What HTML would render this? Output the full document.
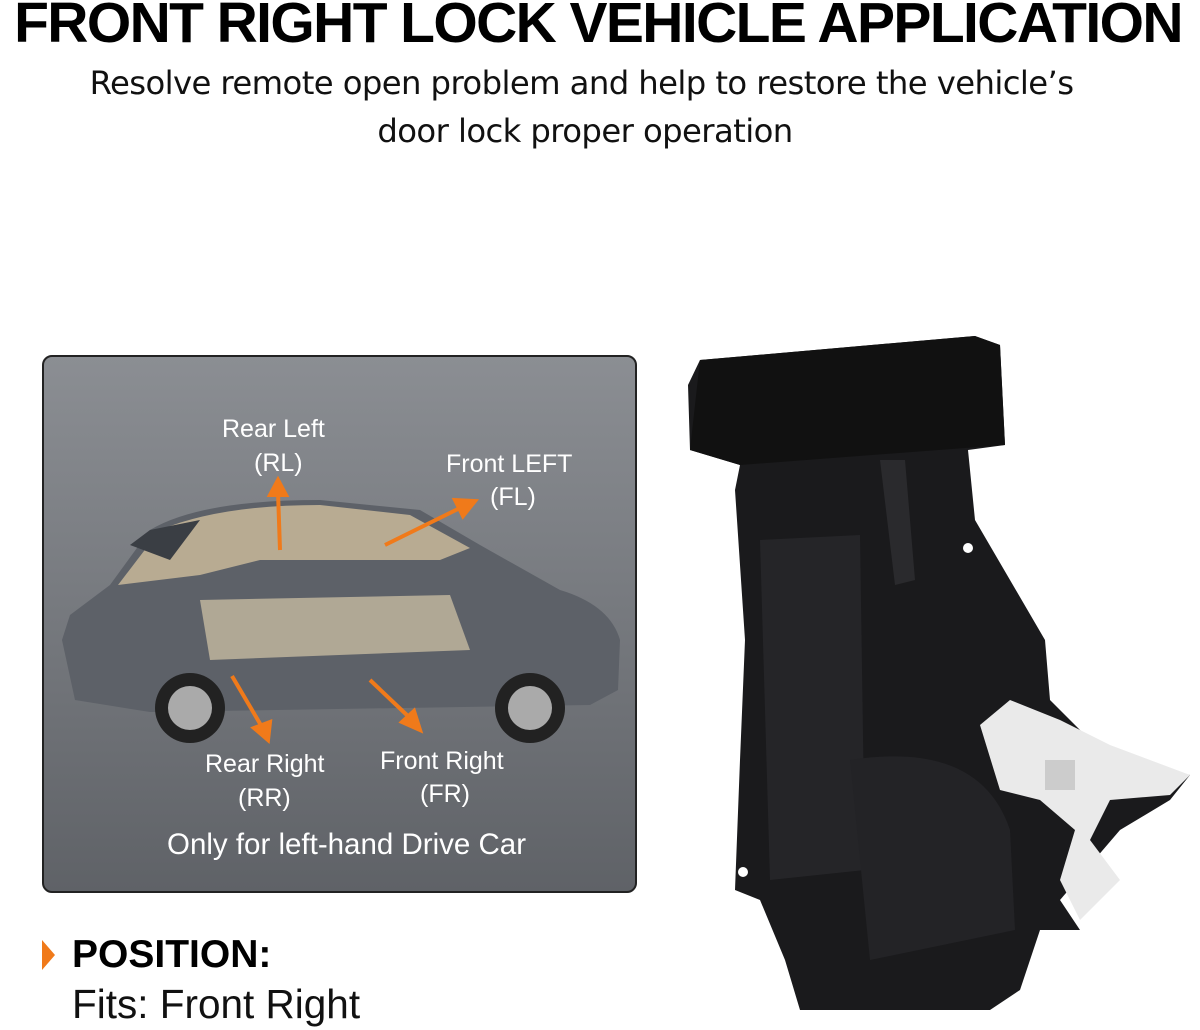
<!DOCTYPE html>
<html><head><meta charset="utf-8"><style>
body{margin:0;width:1200px;height:1030px;background:#fff;position:relative;overflow:hidden;font-family:"Liberation Sans",Arial,sans-serif}
.t{position:absolute;white-space:nowrap}
</style></head><body>
<div class="t" style="left:0;top:-10px;width:1196px;text-align:center;font-weight:bold;font-size:57px;letter-spacing:-1.6px;color:#000">FRONT RIGHT LOCK VEHICLE APPLICATION</div>
<div class="t" style="left:0;top:64px;width:1163px;text-align:center;font-size:32.3px;color:#111;font-family:'DejaVu Sans',sans-serif;letter-spacing:-0.6px">Resolve remote open problem and help to restore the vehicle’s</div>
<div class="t" style="left:0;top:112px;width:1170px;text-align:center;font-size:32.3px;color:#111;font-family:'DejaVu Sans',sans-serif;letter-spacing:-0.6px">door lock proper operation</div>

<div style="position:absolute;left:42px;top:355px;width:591px;height:534px;border:2px solid #222;border-radius:10px;background:linear-gradient(180deg,#8b8e93 0%,#73767b 55%,#5f6267 100%)"></div>
<svg style="position:absolute;left:0;top:0" width="1200" height="1030">
<path d="M62 640 L70 615 L110 585 L150 530 Q200 500 320 500 L420 510 L480 545 L560 590 Q610 605 620 640 L618 690 L590 705 L150 712 L75 700 Z" fill="#5d6168"/>
<path d="M118 585 L160 530 Q220 505 320 505 L410 515 L470 548 L440 560 L260 560 L200 575 Z" fill="#c8b89a" opacity="0.85"/>
<path d="M130 545 L150 530 L200 520 L170 560Z" fill="#3a3e44"/>
<path d="M200 600 L450 595 L470 650 L210 660Z" fill="#d4c6a8" opacity="0.7"/>
<circle cx="190" cy="708" r="35" fill="#222"/><circle cx="190" cy="708" r="22" fill="#aaa"/>
<circle cx="530" cy="708" r="35" fill="#222"/><circle cx="530" cy="708" r="22" fill="#aaa"/>
<g stroke="#f07a1a" stroke-width="4" fill="#f07a1a">
<line x1="280" y1="550" x2="278" y2="492"/><polygon points="270,495 286,495 278,480"/>
<line x1="385" y1="545" x2="460" y2="508"/><polygon points="455,500 463,516 475,501"/>
<line x1="232" y1="676" x2="262" y2="727"/><polygon points="254,728 270,722 268,740"/>
<line x1="370" y1="680" x2="410" y2="718"/><polygon points="402,722 414,711 420,730"/>
</g>
<path d="M688 385 L700 360 L975 336 L1000 345 L1005 445 L968 450 L975 520 L1045 640 L1050 700 L1110 760 L1190 775 L1170 800 L1120 830 L1060 900 L1080 930 L1040 930 L1020 990 L990 1010 L800 1010 L785 960 L760 900 L735 890 L740 760 L745 640 L735 490 L740 465 L690 450 Z" fill="#1a1a1c"/>
<path d="M700 360 L975 336 L1000 345 L1005 445 L740 465 L690 450 Z" fill="#111"/>
<path d="M760 540 L860 535 L865 870 L770 880 Z" fill="#252528"/>
<path d="M880 460 L905 460 L915 580 L895 585 Z" fill="#2a2a2d"/>
<path d="M850 760 Q980 740 1010 830 L1015 930 L870 960 Z" fill="#232326"/>
<path d="M980 725 L1010 700 L1060 720 L1110 745 L1190 775 L1170 795 L1110 800 L1090 840 L1120 880 L1080 920 L1060 880 L1075 830 L1040 800 L1000 790 Z" fill="#eaeaea"/>
<rect x="1045" y="760" width="30" height="30" fill="#ccc"/>
<circle cx="968" cy="548" r="5" fill="#fff"/><circle cx="743" cy="872" r="5" fill="#fff"/>
<polygon points="42,940 55,955 42,970" fill="#f07a1a"/>
</svg>
<div class="t" style="left:222px;top:415px;font-size:25px;color:#fff">Rear Left</div>
<div class="t" style="left:254px;top:449px;font-size:25px;color:#fff">(RL)</div>
<div class="t" style="left:446px;top:450px;font-size:25px;color:#fff">Front LEFT</div>
<div class="t" style="left:490px;top:483px;font-size:25px;color:#fff">(FL)</div>
<div class="t" style="left:205px;top:750px;font-size:25px;color:#fff">Rear Right</div>
<div class="t" style="left:238px;top:784px;font-size:25px;color:#fff">(RR)</div>
<div class="t" style="left:380px;top:747px;font-size:25px;color:#fff">Front Right</div>
<div class="t" style="left:420px;top:780px;font-size:25px;color:#fff">(FR)</div>
<div class="t" style="left:167px;top:828px;font-size:29.5px;color:#fff">Only for left-hand Drive Car</div>
<div class="t" style="left:72px;top:933px;font-size:39px;font-weight:bold;color:#000">POSITION:</div>
<div class="t" style="left:72px;top:981px;font-size:40.5px;color:#111">Fits: Front Right</div>
</body></html>
